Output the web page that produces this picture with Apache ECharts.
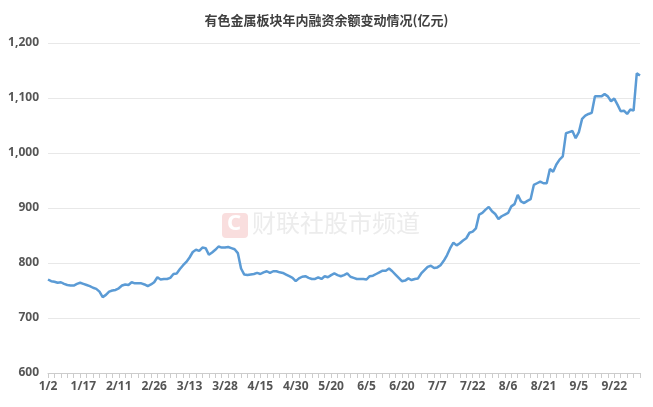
<!DOCTYPE html>
<html>
<head>
<meta charset="utf-8">
<script src="https://cdn.jsdelivr.net/npm/echarts@6/dist/echarts.min.js"></script>
<style>
html,body{margin:0;padding:0;background:#fff;}
#chart{width:653px;height:407px;}
</style>
</head>
<body>
<div id="chart"></div>
<script>
var titleText = '有色金属板块年内融资余额变动情况(亿元)';
var watermarkText = '财联社股市频道';

var dates = [
'1/2','1/3','1/6','1/7','1/8','1/9','1/10','1/13','1/14','1/15','1/16','1/17','1/20','1/21','1/22','1/23','1/24','1/27',
'2/5','2/6','2/7','2/10','2/11','2/12','2/13','2/14','2/17','2/18','2/19','2/20','2/21','2/24','2/25','2/26','2/27','2/28',
'3/3','3/4','3/5','3/6','3/7','3/10','3/11','3/12','3/13','3/14','3/17','3/18','3/19','3/20','3/21','3/24','3/25','3/26','3/27','3/28','3/31',
'4/1','4/2','4/3','4/7','4/8','4/9','4/10','4/11','4/14','4/15','4/16','4/17','4/18','4/21','4/22','4/23','4/24','4/25','4/28','4/29','4/30',
'5/6','5/7','5/8','5/9','5/12','5/13','5/14','5/15','5/16','5/19','5/20','5/21','5/22','5/23','5/26','5/27','5/28','5/29','5/30',
'6/3','6/4','6/5','6/6','6/9','6/10','6/11','6/12','6/13','6/16','6/17','6/18','6/19','6/20','6/23','6/24','6/25','6/26','6/27','6/30',
'7/1','7/2','7/3','7/4','7/7','7/8','7/9','7/10','7/11','7/14','7/15','7/16','7/17','7/18','7/21','7/22','7/23','7/24','7/25','7/28','7/29','7/30','7/31',
'8/1','8/4','8/5','8/6','8/7','8/8','8/11','8/12','8/13','8/14','8/15','8/18','8/19','8/20','8/21','8/22','8/25','8/26','8/27','8/28','8/29',
'9/1','9/2','9/3','9/4','9/5','9/8','9/9','9/10','9/11','9/12','9/15','9/16','9/17','9/18','9/19','9/22','9/23','9/24','9/25','9/26','9/29','9/30',
'10/9','10/10'
];

var balance = [
770,767,766,764,765,762,760,759,759,762,764,762,760,758,755,753,748,738,
742,748,750,751,754,759,761,760,765,763,763,763,761,758,761,765,774,770,
771,771,773,780,781,789,796,802,810,820,824,822,828,827,815,819,824,830,828,828,829,
827,825,818,790,779,778,779,780,782,780,783,785,782,785,785,783,782,779,776,773,767,
772,775,776,773,771,771,774,771,776,774,778,781,778,776,778,781,775,773,771,
771,771,770,776,777,780,783,786,786,790,785,779,773,767,768,772,769,771,772,781,
787,793,795,791,792,796,804,814,827,837,832,836,841,845,855,857,863,888,891,897,902,894,889,
880,885,888,891,903,907,924,912,909,913,916,942,945,948,945,945,971,966,979,988,994,
1036,1038,1040,1027,1038,1062,1068,1071,1073,1103,1103,1103,1107,1103,1094,1099,1088,1076,1077,1071,1079,1077,
1145,1141
];

var yTicks = [600, 700, 800, 900, 1000, 1100, 1200];

var chart = echarts.init(document.getElementById('chart'), null, {renderer: 'canvas'});
chart.setOption({
  animation: false,
  backgroundColor: '#ffffff',
  title: {
    text: titleText,
    left: 'center',
    top: 9,
    textStyle: {fontSize: 13, fontWeight: 'bold', color: '#404040', fontFamily: 'Noto Sans CJK SC'}
  },
  grid: {left: 48, right: 13, top: 43, bottom: 34, containLabel: false},
  graphic: [
    {type: 'rect', left: 222, top: 213, shape: {width: 26, height: 25, r: 4}, style: {fill: '#f9dede'}, z: 0, silent: true},
    {type: 'text', left: 227, top: 213, style: {text: 'C', font: 'bold 22px "Noto Sans"', fill: '#ffffff'}, z: 0, silent: true},
    {type: 'text', left: 252, top: 211, style: {text: watermarkText, font: '24px "Noto Sans CJK SC"', fill: '#ececec'}, z: 0, silent: true}
  ],
  xAxis: {
    type: 'category',
    data: dates,
    boundaryGap: false,
    axisLine: {lineStyle: {color: '#cccccc', width: 1}},
    axisTick: {show: true, interval: 1, length: 5, lineStyle: {color: '#cccccc'}},
    axisLabel: {interval: 10, color: '#555555', fontSize: 12, fontWeight: 'bold', margin: 8, fontFamily: 'Noto Sans'}
  },
  yAxis: {
    type: 'value',
    min: yTicks[0],
    max: yTicks[yTicks.length - 1],
    interval: 100,
    axisLine: {show: false},
    axisTick: {show: false},
    axisLabel: {
      color: '#555555', fontSize: 12, fontWeight: 'bold', margin: 9, fontFamily: 'Noto Sans',
      formatter: function (v) { return v.toLocaleString('en-US'); }
    },
    splitLine: {lineStyle: {color: '#e8e8e8', width: 1}}
  },
  series: [{
    type: 'line',
    data: balance,
    showSymbol: false,
    smooth: false,
    lineStyle: {color: '#5b9bd5', width: 2.5},
    itemStyle: {color: '#5b9bd5'},
    z: 5
  }]
});
</script>
</body>
</html>
